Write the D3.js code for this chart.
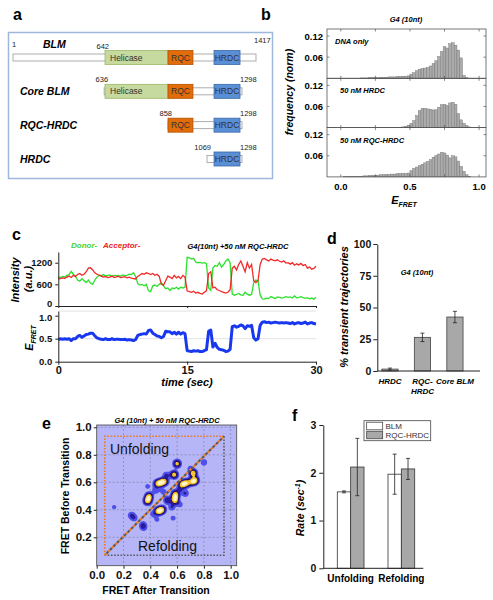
<!DOCTYPE html>
<html><head><meta charset="utf-8">
<script src="https://cdn.jsdelivr.net/npm/d3@7"></script>
<style>body{margin:0;background:#fff}svg{display:block}text{font-family:"Liberation Sans",Arial,sans-serif}</style>
</head><body><svg id="c" width="493" height="600"></svg>
<script>
// ---------------- DATA ----------------
// panel a
const constructs = ["BLM", "Core BLM", "RQC-HRDC", "HRDC"];
const constructStart = [1, 636, 858, 1069];
const constructEnd = [1417, 1298, 1298, 1298];
const constructResLabels = [[1, 642, 1417], [636, 1298], [858, 1298], [1069, 1298]];
const domainNames = ["Helicase", "RQC", "HRDC"];
const domainStart = [642, 858, 1115];
const domainEnd = [858, 993, 1285];
const residueMarks = [1, 642, 858, 1069, 1298, 1417];

// panel b
const histTitles = ["DNA only", "50 nM HRDC", "50 nM RQC-HRDC"];
const binCenters = [0.01,0.03,0.05,0.07,0.09,0.11,0.13,0.15,0.17,0.19,0.21,0.23,0.25,0.27,0.29,0.31,0.33,0.35,0.37,0.39,0.41,0.43,0.45,0.47,0.49,0.51,0.53,0.55,0.57,0.59,0.61,0.63,0.65,0.67,0.69,0.71,0.73,0.75,0.77,0.79,0.81,0.83,0.85,0.87,0.89,0.91,0.93,0.95];
const histDNA = [0,0,0,0,0,0,0,0.001,0.001,0.001,0.002,0.002,0.002,0.002,0.003,0.003,0.003,0.004,0.004,0.004,0.005,0.005,0.006,0.006,0.007,0.012,0.016,0.022,0.026,0.028,0.029,0.031,0.035,0.042,0.05,0.062,0.076,0.09,0.086,0.098,0.101,0.094,0.08,0.058,0.008,0.002,0,0];
const histHRDC = [0,0,0,0,0,0,0,0,0,0,0,0,0,0,0,0,0,0,0,0,0,0.001,0.002,0.004,0.007,0.012,0.02,0.034,0.048,0.054,0.055,0.053,0.052,0.05,0.051,0.058,0.065,0.066,0.063,0.07,0.072,0.066,0.04,0.022,0.012,0.006,0.002,0];
const histRQC = [0,0.001,0.001,0.001,0.001,0.002,0.002,0.002,0.003,0.003,0.004,0.004,0.005,0.005,0.006,0.006,0.007,0.007,0.008,0.008,0.009,0.009,0.01,0.01,0.011,0.018,0.024,0.028,0.032,0.036,0.04,0.044,0.049,0.056,0.061,0.065,0.07,0.068,0.062,0.054,0.06,0.057,0.045,0.03,0.016,0.006,0.002,0];
const histTicksY = [0.06, 0.12];
const histTicksX = [0.0, 0.5, 1.0];

// panel c (one sample every 0.25 s, 0..30 s)
const traceStep = 0.25;
const donor = [800,790,820,810, 850,870,960,880, 820,720,690,760, 700,650,720,640, 600,720,800,850,
  840,870,830,850, 860,820,850,840, 850,830,860,840, 850,880,870,920, 820,620,580,600,
  560,600,420,400, 560,580,540,600, 640,560,480,500, 430,500,480,520, 470,520,500,520,
  1350,1340,1300,1320, 1220,1200,1210,1190, 1200,1180,500,430, 1050,1120,1100,1200, 1080,1150,1250,1300,
  1200,330,300,320, 350,310,300,380, 330,300,320,650, 720,700,300,200, 190,220,210,260,
  230,210,250,240, 220,230,260,240, 250,220,280,230, 240,260,230,210, 230,200,220,190, 240];
const acceptor = [750,760,780,770, 800,830,790,850, 820,870,900,850, 880,950,1050,1060, 1000,920,880,860,
  830,800,820,790, 800,830,790,810, 820,790,800,810, 780,800,770,760, 750,820,860,900,
  880,920,900,870, 900,850,880,820, 600,580,700,830, 800,760,850,780, 820,760,850,800,
  420,400,380,410, 360,380,350,330, 380,420,900,950, 500,520,450,430, 400,380,360,380,
  450,1050,1100,1000, 1150,1250,1100,950, 1200,1050,1150,700, 650,700,1150,1300, 1320,1280,1250,1300,
  1270,1250,1280,1240, 1220,1250,1190,1200, 1160,1200,1130,1170, 1140,1180,1120,1150, 1050,1080,1020,1040, 1100];
const fret = [0.48,0.50,0.49,0.50, 0.49,0.50,0.46,0.50, 0.50,0.55,0.57,0.53, 0.56,0.59,0.60,0.62, 0.62,0.56,0.52,0.50,
  0.49,0.48,0.50,0.48, 0.48,0.50,0.48,0.49, 0.49,0.48,0.48,0.49, 0.47,0.48,0.47,0.46, 0.48,0.57,0.59,0.60,
  0.61,0.60,0.68,0.69, 0.62,0.59,0.56,0.55, 0.52,0.55,0.66,0.65, 0.65,0.61,0.64,0.60, 0.64,0.60,0.63,0.61,
  0.24,0.23,0.22,0.24, 0.23,0.24,0.22,0.22, 0.24,0.26,0.66,0.69, 0.32,0.40,0.31,0.27, 0.26,0.25,0.22,0.23,
  0.27,0.76,0.78,0.75, 0.77,0.80,0.78,0.72, 0.78,0.77,0.79,0.52, 0.47,0.50,0.79,0.86, 0.87,0.85,0.86,0.84,
  0.85,0.86,0.85,0.84, 0.85,0.84,0.85,0.84, 0.83,0.85,0.82,0.84, 0.85,0.83,0.84,0.86, 0.82,0.84,0.85,0.83, 0.82];
const intensityTicks = [0, 600, 1200];
const fretTicks = [0.0, 0.5, 1.0];
const timeTicks = [0, 15, 30];

// panel d
const dCats = ["HRDC", "RQC-HRDC", "Core BLM"];
const dCatLines = [["HRDC"], ["RQC-", "HRDC"], ["Core BLM"]];
const dValues = [1.5, 26.5, 42.5];
const dErrors = [0.8, 3.3, 4.5];
const dTicks = [0, 25, 50, 75, 100];

// panel e : density peaks [FRET after, FRET before, weight]
const tdpAfter  = [0.455,0.48,0.505, 0.38,0.39, 0.46,0.485, 0.583,0.585,0.588, 0.64,0.67, 0.715,0.735, 0.72, 0.578, 0.60,
  0.53,0.52,0.62,0.56,0.66, 0.80,0.26,0.28,0.345,0.35,0.42,0.38,0.13,0.57,0.45,0.62,0.70,0.44,0.50];
const tdpBefore = [0.59,0.598,0.605, 0.465,0.495, 0.39,0.40, 0.465,0.49,0.515, 0.585,0.595, 0.605,0.615, 0.665, 0.655, 0.735,
  0.47,0.65,0.55,0.42,0.52, 0.745,0.36,0.34,0.29,0.27,0.37,0.57,0.42,0.34,0.33,0.44,0.70,0.54,0.53];
const tdpWeight = [0.55,0.55,0.55, 0.65,0.65, 0.65,0.65, 0.5,0.5,0.5, 0.65,0.65, 0.6,0.5, 0.6, 0.55, 0.5,
  0.3,0.18,0.16,0.14,0.16, 0.12,0.16,0.12,0.16,0.12,0.1,0.08,0.07,0.08,0.08,0.1,0.1,0.12,0.1];
const eTicks = [0.0, 0.2, 0.4, 0.6, 0.8, 1.0];

// panel f
const fCats = ["Unfolding", "Refolding"];
const fSeries = ["BLM", "RQC-HRDC"];
const fBLM = [1.6, 1.97];
const fBLMerr = [0.02, 0.42];
const fRQC = [2.12, 2.08];
const fRQCerr = [0.6, 0.22];
const fTicks = [0, 1, 2, 3];

// ---------------- DRAW ----------------
const svg = d3.select("#c");
function label(x, y, s, size, weight = "bold", style = "normal", anchor = "start", fill = "#000", rot = 0) {
  const t = svg.append("text").attr("x", x).attr("y", y).attr("font-size", size)
    .attr("font-weight", weight).attr("font-style", style).attr("text-anchor", anchor)
    .attr("fill", fill).text(s);
  if (rot) t.attr("transform", `rotate(${rot},${x},${y})`);
  return t;
}
function styleAxis(g, size, style = "normal") {
  g.selectAll("path.domain").attr("stroke", "#222");
  g.selectAll(".tick line").attr("stroke", "#222");
  g.selectAll("text").attr("font-size", size).attr("font-weight", "bold").attr("font-style", style)
    .attr("font-family", '"Liberation Sans", Arial, sans-serif').attr("fill", "#111");
}

// panel letters
label(13, 20, "a", 16); label(261, 20, "b", 16); label(12, 240, "c", 16);
label(327, 244, "d", 16); label(42, 429, "e", 16); label(292, 421, "f", 16);

// ---- Panel a ----
svg.append("rect").attr("x", 8.5).attr("y", 32.5).attr("width", 264).attr("height", 146)
  .attr("fill", "#fff").attr("stroke", "#9db8dc").attr("stroke-width", 1.5);
const aX = d3.scaleLinear().domain(residueMarks).range([13, 105, 168, 207, 242, 256]);
const aY = d3.scalePoint().domain(constructs).range([57.5, 159]);
const domFill = ["#c6d99e", "#e36c0a", "#5a8fd6"];
const domStroke = ["#9bb868", "#b35200", "#3a68a8"];
constructs.forEach((c, i) => {
  const cy = aY(c);
  svg.append("rect").attr("x", aX(constructStart[i])).attr("y", cy - 3.5)
    .attr("width", aX(constructEnd[i]) - aX(constructStart[i])).attr("height", 7)
    .attr("fill", "#fff").attr("stroke", "#999").attr("stroke-width", 0.8);
  domainNames.forEach((d, j) => {
    if (domainStart[j] >= constructStart[i] && domainEnd[j] <= constructEnd[i]) {
      const x0 = aX(domainStart[j]), x1 = aX(domainEnd[j]);
      svg.append("rect").attr("x", x0).attr("y", cy - 7).attr("width", x1 - x0).attr("height", 14)
        .attr("fill", domFill[j]).attr("stroke", domStroke[j]).attr("stroke-width", 0.8);
      if (j === 0) label(x0 + 5, cy + 3, d, 8.5, "normal", "normal", "start", "#333");
      else label((x0 + x1) / 2, cy + 3, d, 8.5, "normal", "normal", "middle", "#333");
    }
  });
  constructResLabels[i].forEach(r => {
    const x = aX(r);
    if (r === 1) label(x - 1, cy - 11, "1", 7.5, "normal", "normal", "start", "#222");
    else if (r === constructEnd[i]) label(x - 2, cy - (i === 0 ? 15 : 9), String(r), 7.5, "normal", "normal", "start", "#222");
    else label(x + 4, cy - 9, String(r), 7.5, "normal", "normal", "end", "#222");
  });
  if (i === 0) label(43, cy - 10, c, 10.5, "bold", "italic");
  else label(20, cy + 4, c, 10.5, "bold", "italic");
});

// ---- Panel b ----
const bX = d3.scaleLinear().domain([-0.1, 1.05]).range([327, 486]);
const bH = 49.3;
const hists = [histDNA, histHRDC, histRQC];
label(406, 22, "G4 (10nt)", 7.5, "bold", "italic", "middle");
hists.forEach((h, k) => {
  const top = 29 + k * bH;
  const bY = d3.scaleLinear().domain([0, 0.14]).range([top + bH, top]);
  const g = svg.append("g");
  g.selectAll("rect").data(binCenters).join("rect")
    .attr("x", c => bX(c - 0.01)).attr("width", c => bX(c + 0.01) - bX(c - 0.01))
    .attr("y", (c, i) => bY(h[i])).attr("height", (c, i) => bY(0) - bY(h[i]))
    .attr("fill", "#ababab").attr("stroke", "#707070").attr("stroke-width", 0.4);
  svg.append("rect").attr("x", bX(-0.1)).attr("y", top).attr("width", bX(1.05) - bX(-0.1)).attr("height", bH)
    .attr("fill", "none").attr("stroke", "#555").attr("stroke-width", 0.8);
  [0, 0.25, 0.5, 0.75, 1.0].forEach(t => {
    svg.append("line").attr("x1", bX(t)).attr("x2", bX(t)).attr("y1", top).attr("y2", top + 2.5).attr("stroke", "#555").attr("stroke-width", 0.7);
    svg.append("line").attr("x1", bX(t)).attr("x2", bX(t)).attr("y1", top + bH).attr("y2", top + bH - 2.5).attr("stroke", "#555").attr("stroke-width", 0.7);
  });
  histTicksY.forEach(t => {
    svg.append("line").attr("x1", bX(-0.1)).attr("x2", bX(-0.1) + 2.5).attr("y1", bY(t)).attr("y2", bY(t)).attr("stroke", "#555").attr("stroke-width", 0.7);
    svg.append("line").attr("x1", bX(1.05)).attr("x2", bX(1.05) - 2.5).attr("y1", bY(t)).attr("y2", bY(t)).attr("stroke", "#555").attr("stroke-width", 0.7);
    label(323, bY(t) + 3.5, t.toFixed(2), 9.5, "bold", "normal", "end");
  });
  label(k === 0 ? 335 : 340, top + 15, histTitles[k], 7.5, "bold", "italic");
});
histTicksX.forEach(t => label(bX(t), 190, t.toFixed(1), 9.5, "bold", "normal", "middle"));
{
  const t = label(404, 204, "E", 11, "bold", "italic", "middle");
  t.append("tspan").attr("font-size", 7).attr("dy", 2.5).text("FRET");
}
label(293, 92, "frequency  (norm)", 10.5, "bold", "italic", "middle", "#000", -90);

// ---- Panel c ----
label(71, 248, "Donor-", 8, "bold", "italic", "start", "#44d13a");
label(103, 248, "Acceptor-", 8, "bold", "italic", "start", "#ee2222");
label(238, 249, "G4(10nt) +50 nM RQC-HRDC", 7.5, "bold", "italic", "middle");
const cX = d3.scaleLinear().domain([0, 30]).range([58.3, 316]);
const cYI = d3.scaleLinear().domain([0, 1500]).range([306, 251.9]);
const cYF = d3.scaleLinear().domain([0, 1.1]).range([361.7, 311.1]);
[0.5, 1.1].forEach(v => svg.append("line").attr("x1", cX(0)).attr("x2", cX(30)).attr("y1", cYF(v)).attr("y2", cYF(v))
  .attr("stroke", "#e2e2e2").attr("stroke-width", 1));
const lineI = d3.line().x((d, i) => cX(i * traceStep)).y(d => cYI(d));
svg.append("path").attr("d", lineI(donor)).attr("fill", "none").attr("stroke", "#2ee02e").attr("stroke-width", 1.3);
svg.append("path").attr("d", lineI(acceptor)).attr("fill", "none").attr("stroke", "#f01818").attr("stroke-width", 1.3).attr("opacity", 0.92);
const lineF = d3.line().x((d, i) => cX(i * traceStep)).y(d => cYF(d));
svg.append("path").attr("d", lineF(fret)).attr("fill", "none").attr("stroke", "#1838f0").attr("stroke-width", 3).attr("stroke-linejoin", "round");
{
  const g1 = svg.append("g").attr("transform", `translate(${cX(0)},0)`)
    .call(d3.axisLeft(cYI).tickValues(intensityTicks).tickFormat(d3.format("d")).tickSize(3).tickSizeOuter(0).tickPadding(3));
  styleAxis(g1, 9.5);
  g1.selectAll(".tick text").filter(d => d === 0).attr("dy", "0.1em");
  const g2 = svg.append("g").attr("transform", `translate(${cX(0)},0)`)
    .call(d3.axisLeft(cYF).tickValues(fretTicks).tickFormat(d3.format(".1f")).tickSize(3).tickSizeOuter(0).tickPadding(3));
  styleAxis(g2, 9.5);
  g2.selectAll(".tick text").filter(d => d === 1).attr("dy", "0.55em");
  const g3 = svg.append("g").attr("transform", `translate(0,${cYI(0)})`)
    .call(d3.axisBottom(cX).tickValues(timeTicks).tickFormat("").tickSize(2).tickSizeOuter(0));
  styleAxis(g3, 10);
  const g4 = svg.append("g").attr("transform", `translate(0,${cYF(0)})`)
    .call(d3.axisBottom(cX).tickValues(timeTicks).tickFormat(d3.format("d")).tickSize(3).tickSizeOuter(0).tickPadding(2));
  styleAxis(g4, 11);
}
label(187, 386, "time (sec)", 11, "bold", "italic", "middle");
label(19, 280, "Intensity", 11, "bold", "italic", "middle", "#000", -90);
label(32, 279, "(a.u.)", 11, "bold", "italic", "middle", "#000", -90);
{
  const t = label(33, 338, "E", 11, "bold", "italic", "middle", "#000", -90);
  t.append("tspan").attr("font-size", 7).attr("dy", 2.5).text("FRET");
}

// ---- Panel d ----
const dY = d3.scaleLinear().domain([0, 100]).range([371, 244]);
const dX = d3.scaleBand().domain(dCats).range([377.3, 467.6]).paddingInner(0.5).paddingOuter(0.14);
svg.append("g").selectAll("rect").data(dCats).join("rect")
  .attr("x", d => dX(d)).attr("width", dX.bandwidth())
  .attr("y", (d, i) => dY(dValues[i])).attr("height", (d, i) => dY(0) - dY(dValues[i]))
  .attr("fill", "#a8a8a8").attr("stroke", "#444").attr("stroke-width", 0.8);
dCats.forEach((d, i) => {
  const cx = dX(d) + dX.bandwidth() / 2;
  const y0 = dY(dValues[i] - dErrors[i]), y1 = dY(dValues[i] + dErrors[i]);
  svg.append("line").attr("x1", cx).attr("x2", cx).attr("y1", y0).attr("y2", y1).attr("stroke", "#222").attr("stroke-width", 0.8);
  [y0, y1].forEach(y => svg.append("line").attr("x1", cx - 2).attr("x2", cx + 2).attr("y1", y).attr("y2", y).attr("stroke", "#222").attr("stroke-width", 0.8));
  dCatLines[i].forEach((s, k) => label(cx, 384 + k * 10, s, 8, "bold", "italic", "middle"));
});
{
  const g = svg.append("g").attr("transform", "translate(377.3,0)")
    .call(d3.axisLeft(dY).tickValues(dTicks).tickFormat(d3.format("d")).tickSize(4).tickSizeOuter(0).tickPadding(2));
  styleAxis(g, 10.5);
  svg.append("line").attr("x1", 377.3).attr("x2", 480).attr("y1", 371).attr("y2", 371).attr("stroke", "#222");
}
label(417, 275, "G4 (10nt)", 7.5, "bold", "italic", "middle");
label(348, 307, "% transient trajectories", 11, "bold", "italic", "middle", "#000", -90);

// ---- Panel e ----
const eX = d3.scaleLinear().domain([0, 1]).range([96.7, 230.7]);
const eY = d3.scaleLinear().domain([0, 1]).range([564.8, 427.3]);
const eL = 96.7, eT = 425, eW = 140, eHt = 140.7;
svg.append("defs").append("clipPath").attr("id", "eclip").append("rect")
  .attr("x", eL).attr("y", eT).attr("width", eW).attr("height", eHt);
const eg = svg.append("g").attr("clip-path", "url(#eclip)");
eg.append("rect").attr("x", eL).attr("y", eT).attr("width", eW).attr("height", eHt).attr("fill", "#b5b5f7");
eTicks.slice(1).forEach(t => {
  eg.append("line").attr("x1", eX(t)).attr("x2", eX(t)).attr("y1", eT).attr("y2", eT + eHt)
    .attr("stroke", "#7a7a9a").attr("stroke-width", 0.6).attr("stroke-dasharray", "2,2");
  eg.append("line").attr("x1", eL).attr("x2", eL + eW).attr("y1", eY(t)).attr("y2", eY(t))
    .attr("stroke", "#7a7a9a").attr("stroke-width", 0.6).attr("stroke-dasharray", "2,2");
});
{
  const idx = d3.range(tdpAfter.length);
  const dens = d3.contourDensity()
    .x(i => eX(tdpAfter[i]) - eL).y(i => eY(tdpBefore[i]) - eT).weight(i => tdpWeight[i])
    .size([eW, eHt]).cellSize(1).bandwidth(2.1);
  const all = dens.thresholds(200)(idx);
  const maxV = d3.max(all.filter(c => c.coordinates.length), c => c.value);
  const fracs = [0.05, 0.14, 0.32, 0.38, 0.66];
  const cols = ["#4f4fea", "#2a1a9e", "#0a0020", "#f5c232", "#fff5c6"];
  const cs = dens.thresholds(fracs.map(f => f * maxV))(idx);
  eg.append("g").attr("transform", `translate(${eL},${eT})`).selectAll("path").data(cs).join("path")
    .attr("d", d3.geoPath()).attr("fill", (d, i) => cols[i]);
}
const ox0 = eX(0.06), ox1 = eX(0.95), oy0 = eY(0.07), oy1 = eY(0.935);
eg.append("path").attr("d", `M${ox0},${oy0}L${ox0},${oy1}L${ox1},${oy1}`).attr("fill", "none")
  .attr("stroke", "#ee7a22").attr("stroke-width", 1.6).attr("stroke-dasharray", "1.6,1.6");
eg.append("path").attr("d", `M${ox1},${oy1}L${ox1},${oy0}L${ox0},${oy0}`).attr("fill", "none")
  .attr("stroke", "#5a5a5a").attr("stroke-width", 1.6).attr("stroke-dasharray", "1.6,1.6");
eg.append("line").attr("x1", ox0).attr("y1", oy0).attr("x2", ox1).attr("y2", oy1)
  .attr("stroke", "#ee7a22").attr("stroke-width", 2.2).attr("stroke-dasharray", "2.5,2.5");
eg.append("line").attr("x1", ox0).attr("y1", oy0).attr("x2", ox1).attr("y2", oy1)
  .attr("stroke", "#5a5a5a").attr("stroke-width", 2.2).attr("stroke-dasharray", "2.5,2.5").attr("stroke-dashoffset", 2.5);
svg.append("text").attr("x", 110).attr("y", 454).attr("font-size", 14).attr("fill", "#111").text("Unfolding");
svg.append("text").attr("x", 138).attr("y", 551).attr("font-size", 14).attr("fill", "#111").text("Refolding");
svg.append("rect").attr("x", eL).attr("y", eT).attr("width", eW).attr("height", eHt)
  .attr("fill", "none").attr("stroke", "#444").attr("stroke-width", 0.8);
{
  const gx = svg.append("g").attr("transform", `translate(0,${eT + eHt})`)
    .call(d3.axisBottom(eX).tickValues(eTicks).tickFormat(d3.format(".1f")).tickSize(3).tickSizeOuter(0).tickPadding(2));
  styleAxis(gx, 11.5); gx.select("path.domain").remove();
  const gy = svg.append("g").attr("transform", `translate(${eL},0)`)
    .call(d3.axisLeft(eY).tickValues(eTicks.slice(1)).tickFormat(d3.format(".1f")).tickSize(3).tickSizeOuter(0).tickPadding(2));
  styleAxis(gy, 11.5); gy.select("path.domain").remove();
}
label(167, 423, "G4 (10nt) + 50 nM RQC-HRDC", 7.5, "bold", "italic", "middle");
label(156, 594, "FRET After Transition", 10.5, "bold", "normal", "middle");
label(69, 496, "FRET Before Transition", 10.5, "bold", "normal", "middle", "#000", -90);

// ---- Panel f ----
const fY = d3.scaleLinear().domain([0, 3]).range([568.3, 425]);
const fX0 = d3.scaleBand().domain(fCats).range([323.3, 428.7]).paddingInner(0.473).paddingOuter(0.276);
const fX1 = d3.scaleBand().domain(fSeries).range([0, fX0.bandwidth()]);
const fVals = [fBLM, fRQC], fErrs = [fBLMerr, fRQCerr], fFill = ["#ffffff", "#a8a8a8"];
fSeries.forEach((s, si) => {
  fCats.forEach((c, ci) => {
    const x = fX0(c) + fX1(s), w = fX1.bandwidth(), v = fVals[si][ci], e = fErrs[si][ci];
    svg.append("rect").attr("x", x).attr("width", w).attr("y", fY(v)).attr("height", fY(0) - fY(v))
      .attr("fill", fFill[si]).attr("stroke", "#333").attr("stroke-width", 0.8);
    const cx = x + w / 2;
    svg.append("line").attr("x1", cx).attr("x2", cx).attr("y1", fY(v - e)).attr("y2", fY(v + e)).attr("stroke", "#222").attr("stroke-width", 0.8);
    [v - e, v + e].forEach(y => svg.append("line").attr("x1", cx - 2).attr("x2", cx + 2).attr("y1", fY(y)).attr("y2", fY(y)).attr("stroke", "#222").attr("stroke-width", 0.8));
  });
});
{
  const g = svg.append("g").attr("transform", "translate(323.3,0)")
    .call(d3.axisLeft(fY).tickValues(fTicks).tickFormat(d3.format("d")).tickSize(4).tickSizeOuter(0).tickPadding(3));
  styleAxis(g, 10.5);
  svg.append("line").attr("x1", 323.3).attr("x2", 423.3).attr("y1", 568.3).attr("y2", 568.3).attr("stroke", "#222");
}
fCats.forEach(c => label(fX0(c) + fX0.bandwidth() / 2, 582, c, 10, "bold", "normal", "middle"));
{
  const t = label(304, 508, "Rate (sec", 10.5, "bold", "italic", "middle", "#000", -90);
  t.append("tspan").attr("font-size", 7).attr("dy", -4).text("-1");
  t.append("tspan").attr("dy", 4).text(")");
}
svg.append("rect").attr("x", 364).attr("y", 420.7).attr("width", 66.7).attr("height", 20).attr("fill", "#fff").attr("stroke", "#444").attr("stroke-width", 0.8);
fSeries.forEach((s, i) => {
  svg.append("rect").attr("x", 366.7).attr("y", 422.2 + i * 9).attr("width", 16).attr("height", 7.6)
    .attr("fill", fFill[i]).attr("stroke", "#333").attr("stroke-width", 0.7);
  label(385.5, 428.8 + i * 9, s, 8, "normal", "normal", "start", "#333");
});
</script></body></html>
